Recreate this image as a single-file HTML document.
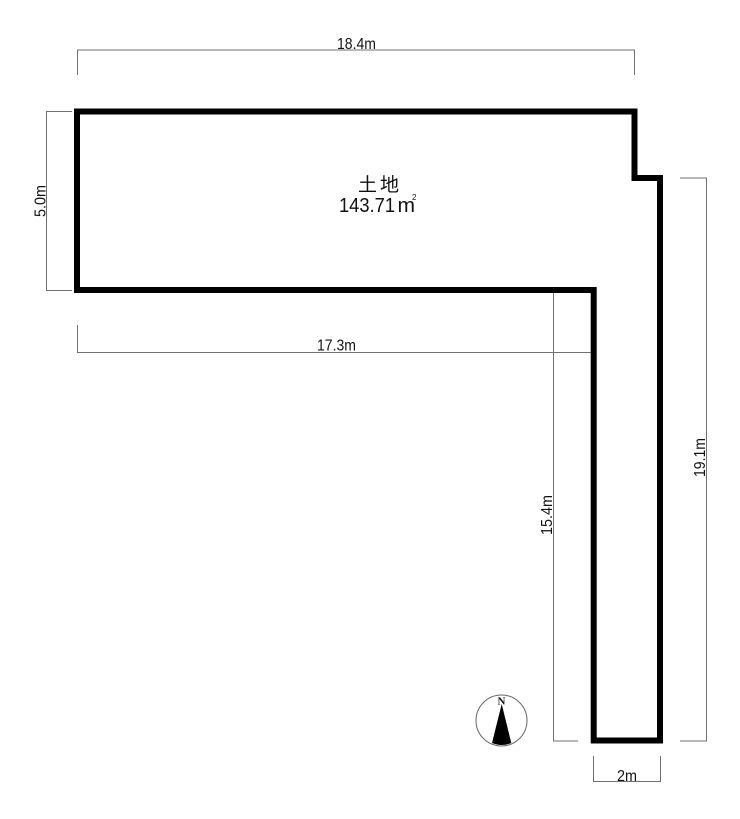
<!DOCTYPE html>
<html>
<head>
<meta charset="utf-8">
<style>
html,body{margin:0;padding:0;background:#fff;width:740px;height:819px;overflow:hidden}
svg{display:block}
text{font-family:"Liberation Sans","Noto Sans CJK JP",sans-serif;fill:#111}
</style>
</head>
<body>
<svg width="740" height="819" viewBox="0 0 740 819" xmlns="http://www.w3.org/2000/svg">
<rect width="740" height="819" fill="#fff"/>
<g fill="none" stroke="#707070" stroke-width="1">
<path d="M77.5 75V50H634.5V75"/>
<path d="M72 111.5H46.5V290.5H72"/>
<path d="M680 178H706.5V741H680"/>
<path d="M578 741H553.5V291"/>
<path d="M77.5 325V352.5H592"/>
<path d="M593.5 756V781.5H660.5V756"/>
</g>
<path d="M77 111.5H634.5V178H660V740.5H593.7V290H77Z" fill="none" stroke="#000" stroke-width="6" stroke-linejoin="miter"/>
<circle cx="501.5" cy="720.5" r="25.5" fill="none" stroke="#666" stroke-width="1"/>
<path d="M501.7 704L492 743Q501.7 747 511.3 743Z" fill="#000"/>
<text x="501.5" y="704.5" font-size="11" font-weight="bold" text-anchor="middle" style="font-family:'Liberation Serif',serif">N</text>
<text x="337" y="49" font-size="15.5" textLength="39" lengthAdjust="spacingAndGlyphs">18.4m</text>
<text x="317" y="350.5" font-size="15.5" textLength="39" lengthAdjust="spacingAndGlyphs">17.3m</text>
<text x="617" y="781" font-size="15.5" textLength="20" lengthAdjust="spacingAndGlyphs">2m</text>
<text transform="translate(45.5,217) rotate(-90)" font-size="15.5" textLength="32" lengthAdjust="spacingAndGlyphs">5.0m</text>
<text transform="translate(552,535) rotate(-90)" font-size="15.5" textLength="40" lengthAdjust="spacingAndGlyphs">15.4m</text>
<text transform="translate(705,477) rotate(-90)" font-size="15.5" textLength="39" lengthAdjust="spacingAndGlyphs">19.1m</text>
<text x="358" y="191" font-size="19" textLength="41">土地</text>
<text x="339" y="212" font-size="20.5" textLength="56" lengthAdjust="spacingAndGlyphs">143.71</text>
<text x="397.5" y="212" font-size="20.5" textLength="17.5" lengthAdjust="spacingAndGlyphs">m</text>
<text x="412" y="200" font-size="8">2</text>
</svg>
</body>
</html>
